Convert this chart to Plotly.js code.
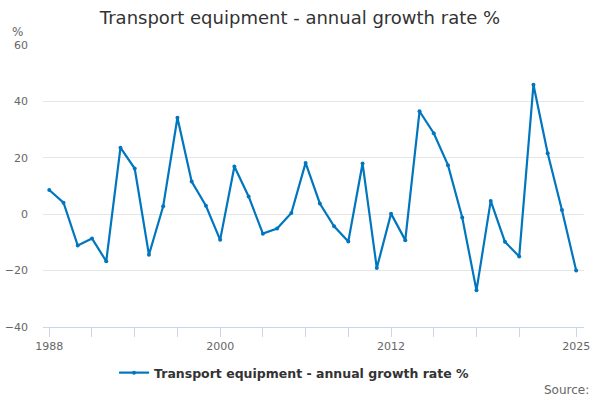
<!DOCTYPE html>
<html>
<head>
<meta charset="utf-8">
<script src="https://cdn.plot.ly/plotly-3.0.1.min.js"></script>
<style>
  html, body { margin: 0; padding: 0; background: #fff; }
  #chart { width: 600px; height: 400px; }
</style>
</head>
<body>
<div id="chart"></div>
<script>
var years = [];
for (var y = 1988; y <= 2025; y++) years.push(y);

var growth = [8.6, 4.1, -11.1, -8.6, -16.7, 23.6, 16.2, -14.4, 2.8, 34.2,
  11.6, 3.0, -9.1, 16.9, 6.3, -6.9, -5.1, 0.4, 18.2, 3.8,
  -4.3, -9.7, 18.0, -19.1, 0.2, -9.2, 36.5, 28.7, 17.4, -1.2,
  -27.0, 4.7, -9.8, -15.0, 45.9, 21.6, 1.5, -20.0];

var tickYears = [1988, 1991, 1994, 1997, 2000, 2003, 2006, 2009, 2012, 2015, 2018, 2021, 2025];
var tickLabels = ["1988", "", "", "", "2000", "", "", "", "2012", "", "", "", "2025"];

var seriesName = "Transport equipment - annual growth rate %";
var font = "DejaVu Sans, Verdana, sans-serif";

var data = [{
  x: years,
  y: growth,
  type: "scatter",
  mode: "lines+markers",
  name: seriesName,
  line: {color: "#0076bf", width: 2.2},
  marker: {color: "#0076bf", size: 4}
}];

var layout = {
  width: 600,
  height: 400,
  margin: {l: 43, r: 16, t: 45, b: 73},
  paper_bgcolor: "#fff",
  plot_bgcolor: "#fff",
  font: {family: font, size: 11, color: "#666"},
  title: {
    text: "Transport equipment - annual growth rate %",
    font: {family: font, size: 18, color: "#333"},
    x: 0.5, xanchor: "center",
    y: 0.955, yanchor: "middle", yref: "container"
  },
  xaxis: {
    range: [1987.56, 2025.55],
    tickmode: "array",
    tickvals: tickYears,
    ticktext: tickLabels,
    ticks: "outside",
    ticklen: 9,
    tickcolor: "#ccd6eb",
    showgrid: false,
    zeroline: false,
    showline: true,
    linecolor: "#ccd6eb",
    linewidth: 1,
    tickfont: {family: font, size: 11, color: "#666"}
  },
  yaxis: {
    range: [-40, 60],
    tickvals: [-40, -20, 0, 20, 40, 60],
    showgrid: true,
    gridcolor: "#e6e6e6",
    zeroline: false,
    showline: false,
    ticklabelstandoff: 14,
    tickfont: {family: font, size: 11, color: "#666"}
  },
  showlegend: true,
  legend: {
    orientation: "h",
    x: 0.465, xanchor: "center",
    y: 27 / 400, yanchor: "middle", yref: "container",
    font: {family: font, size: 12.5, color: "#333", weight: "bold"},
    itemwidth: 30
  },
  annotations: [{
    text: "%",
    xref: "paper", yref: "paper",
    x: -33 / 541, y: (327 - 32) / 282,
    xanchor: "left", yanchor: "middle",
    showarrow: false,
    font: {family: font, size: 12, color: "#666"}
  }, {
    text: "Source:",
    xref: "paper", yref: "paper",
    x: 548 / 541, y: (327 - 390) / 282,
    xanchor: "right", yanchor: "middle",
    showarrow: false,
    font: {family: font, size: 12, color: "#666"}
  }]
};

Plotly.newPlot("chart", data, layout, {displayModeBar: false, staticPlot: true});
</script>
</body>
</html>
